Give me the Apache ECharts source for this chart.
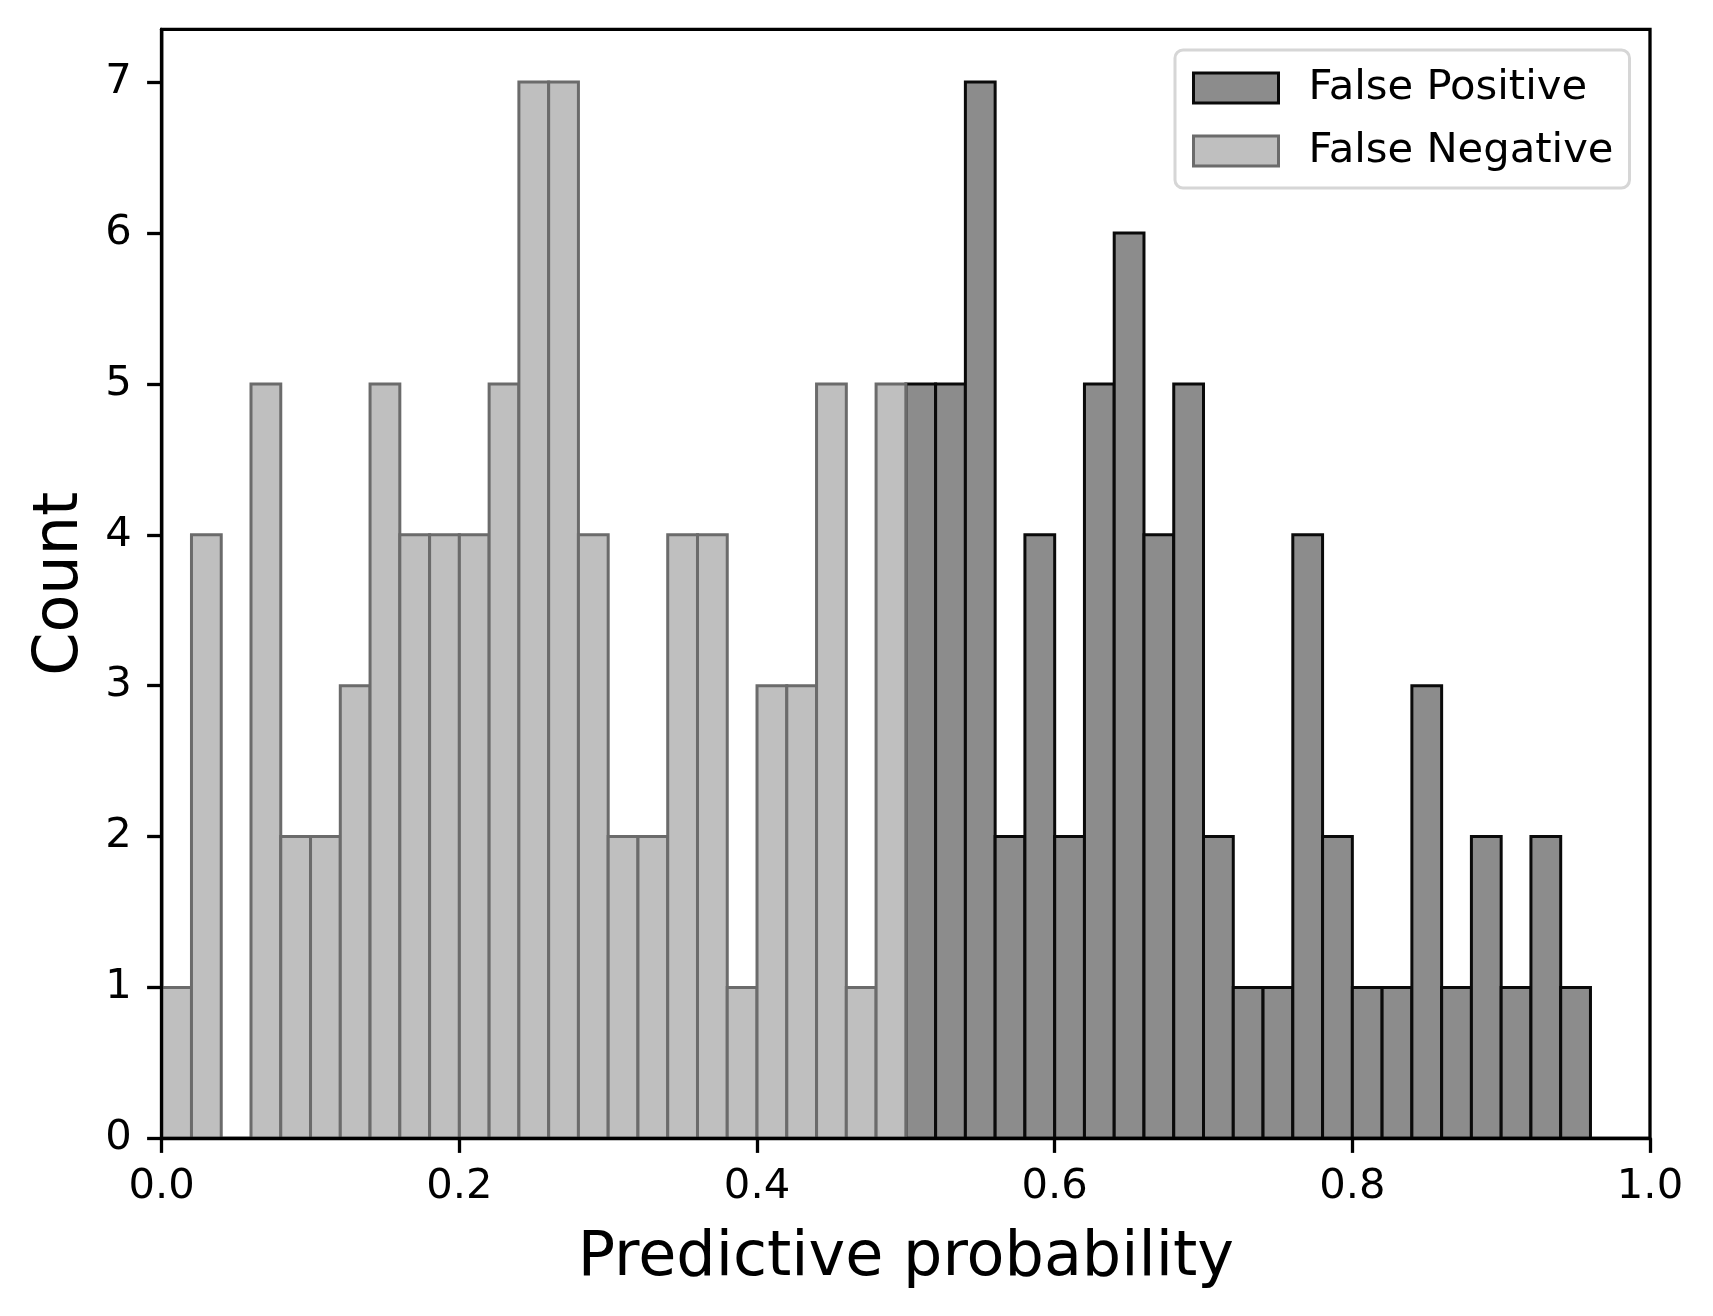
<!DOCTYPE html>
<html>
<head>
<meta charset="utf-8">
<script src="https://cdn.jsdelivr.net/npm/echarts@6/dist/echarts.min.js"></script>
<style>
html,body{margin:0;padding:0;background:#fff;}
#chart{width:1713px;height:1316px;}
</style>
</head>
<body>
<div id="chart"></div>
<script>
// Histogram bins (width 0.02)
const binWidth = 0.02;
const fnBinLeft = [0.00,0.02,0.04,0.06,0.08,0.10,0.12,0.14,0.16,0.18,0.20,0.22,0.24,0.26,0.28,0.30,0.32,0.34,0.36,0.38,0.40,0.42,0.44,0.46,0.48];
const fnCounts  = [1,4,0,5,2,2,3,5,4,4,4,5,7,7,4,2,2,4,4,1,3,3,5,1,5];
const fpBinLeft = [0.50,0.52,0.54,0.56,0.58,0.60,0.62,0.64,0.66,0.68,0.70,0.72,0.74,0.76,0.78,0.80,0.82,0.84,0.86,0.88,0.90,0.92,0.94];
const fpCounts  = [5,5,7,2,4,2,5,6,4,5,2,1,1,4,2,1,1,3,1,2,1,2,1];
const xTicks = [0.0,0.2,0.4,0.6,0.8,1.0];
const yTicks = [0,1,2,3,4,5,6,7];

const FONT = 'DejaVu Sans';
const fpStyle = {fill:'#8c8c8c', stroke:'#0a0a0a'};
const fnStyle = {fill:'#bfbfbf', stroke:'#6b6b6b'};

function toData(lefts, counts){
  const out = [];
  for (let i = 0; i < lefts.length; i++) {
    if (counts[i] > 0) out.push([lefts[i], counts[i]]);
  }
  return out;
}
function makeRender(st){
  return function(params, api){
    const x0 = api.value(0), y = api.value(1);
    const p0 = api.coord([x0, 0]);
    const p1 = api.coord([x0 + binWidth, y]);
    return {
      type:'rect',
      shape:{x:p0[0], y:p1[1], width:p1[0]-p0[0], height:p0[1]-p1[1]},
      style:{fill:st.fill, stroke:st.stroke, lineWidth:3}
    };
  };
}

const chart = echarts.init(document.getElementById('chart'));
chart.setOption({
  animation:false,
  backgroundColor:'#ffffff',
  grid:{left:161.7, right:63, top:29.3, bottom:177.7, show:true, borderColor:'#000', borderWidth:3.3, backgroundColor:'transparent'},
  legend:{
    orient:'vertical',
    left:1175, top:50,
    padding:[17,16,16,17],
    itemWidth:85, itemHeight:30,
    itemGap:21,
    borderColor:'#d6d6d6', borderWidth:3, borderRadius:8,
    backgroundColor:'rgba(255,255,255,0.8)',
    textStyle:{fontFamily:FONT, fontSize:41.7, color:'#000', lineHeight:42, padding:[0,0,0,25]},
    icon:'rect',
    data:[
      {name:'False Positive', itemStyle:{color:fpStyle.fill, borderColor:fpStyle.stroke, borderWidth:3}},
      {name:'False Negative', itemStyle:{color:fnStyle.fill, borderColor:fnStyle.stroke, borderWidth:3}}
    ]
  },
  xAxis:{
    type:'value', min:0, max:1, interval:0.2, z:10,
    name:'Predictive probability', nameLocation:'middle', nameGap:90,
    nameTextStyle:{fontFamily:FONT, fontSize:62, color:'#000'},
    axisLine:{show:true, lineStyle:{color:'#000', width:3.3}},
    axisTick:{show:true, length:14.6, lineStyle:{color:'#000', width:3.3}, customValues:xTicks},
    axisLabel:{fontFamily:FONT, fontSize:41.7, color:'#000', margin:28, customValues:xTicks,
      formatter:v=>Number(v).toFixed(1)},
    splitLine:{show:false}
  },
  yAxis:{
    type:'value', min:0, max:7.35, interval:1, z:10,
    name:'Count', nameLocation:'middle', nameGap:70,
    nameTextStyle:{fontFamily:FONT, fontSize:62, color:'#000'},
    axisLine:{show:true, lineStyle:{color:'#000', width:3.3}},
    axisTick:{show:true, length:14.6, lineStyle:{color:'#000', width:3.3}, customValues:yTicks},
    axisLabel:{fontFamily:FONT, fontSize:41.7, color:'#000', margin:30, customValues:yTicks,
      formatter:v=>String(Math.round(v))},
    splitLine:{show:false}
  },
  series:[
    {name:'False Positive', type:'custom', renderItem:makeRender(fpStyle),
     itemStyle:{color:fpStyle.fill, borderColor:fpStyle.stroke},
     encode:{x:0, y:1}, data:toData(fpBinLeft, fpCounts), z:2},
    {name:'False Negative', type:'custom', renderItem:makeRender(fnStyle),
     itemStyle:{color:fnStyle.fill, borderColor:fnStyle.stroke},
     encode:{x:0, y:1}, data:toData(fnBinLeft, fnCounts), z:3}
  ]
});
</script>
</body>
</html>
